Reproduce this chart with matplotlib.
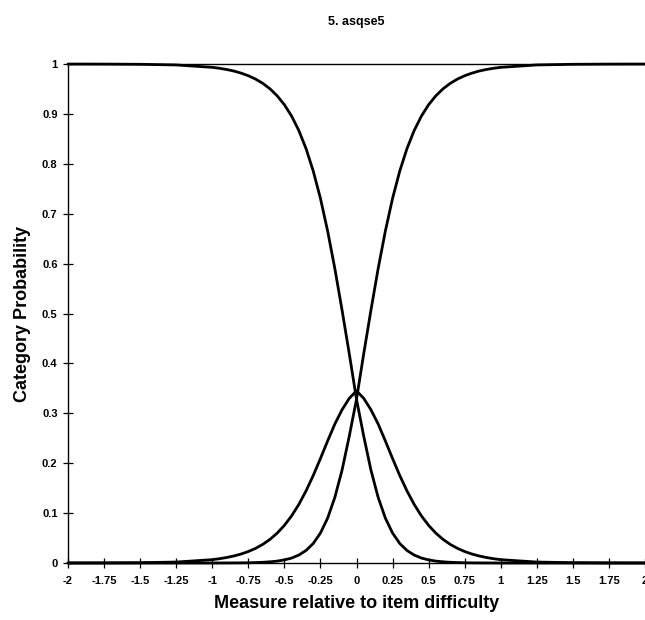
import numpy as np
import matplotlib.pyplot as plt

plt.rcParams['font.family'] = ['Liberation Sans', 'DejaVu Sans']

# measure (logits relative to item difficulty) and the three category curves
measure = [-2.0, -1.75, -1.5, -1.25, -1.0, -0.95, -0.9, -0.85, -0.8, -0.75,
           -0.7, -0.65, -0.6, -0.55, -0.5, -0.45, -0.4, -0.35, -0.3, -0.25,
           -0.2, -0.15, -0.1, -0.05, 0.0, 0.05, 0.1, 0.15, 0.2, 0.25,
           0.3, 0.35, 0.4, 0.45, 0.5, 0.55, 0.6, 0.65, 0.7, 0.75,
           0.8, 0.85, 0.9, 0.95, 1.0, 1.25, 1.5, 1.75, 2.0]

cat0 = [0.9999, 0.9998, 0.9994, 0.9981, 0.9933, 0.9914, 0.9890, 0.9859, 0.9817, 0.9765,
        0.9698, 0.9613, 0.9503, 0.9363, 0.9184, 0.8957, 0.8668, 0.8306, 0.7856, 0.7307,
        0.6652, 0.5898, 0.5065, 0.4192, 0.3280, 0.2543, 0.1863, 0.1316, 0.0900, 0.0600,
        0.0391, 0.0251, 0.0159, 0.0099, 0.0062, 0.0038, 0.0024, 0.0014, 0.0009, 0.0005,
        0.0003, 0.0002, 0.0001, 0.0001, 0.0000, 0.0000, 0.0000, 0.0000, 0.0000]

cat1 = [0.0001, 0.0002, 0.0006, 0.0019, 0.0067, 0.0086, 0.0110, 0.0141, 0.0180, 0.0230,
        0.0293, 0.0373, 0.0473, 0.0598, 0.0754, 0.0944, 0.1173, 0.1444, 0.1753, 0.2093,
        0.2447, 0.2786, 0.3072, 0.3300, 0.3450, 0.3300, 0.3072, 0.2786, 0.2447, 0.2093,
        0.1753, 0.1444, 0.1173, 0.0944, 0.0754, 0.0598, 0.0473, 0.0373, 0.0293, 0.0230,
        0.0180, 0.0141, 0.0110, 0.0086, 0.0067, 0.0019, 0.0006, 0.0002, 0.0001]

cat2 = cat0[::-1]

xticks = [-2, -1.75, -1.5, -1.25, -1, -0.75, -0.5, -0.25, 0, 0.25, 0.5, 0.75, 1, 1.25, 1.5, 1.75, 2]
xlabels = ['-2', '-1.75', '-1.5', '-1.25', '-1', '-0.75', '-0.5', '-0.25', '0',
           '0.25', '0.5', '0.75', '1', '1.25', '1.5', '1.75', '2']
yticks = [0, 0.1, 0.2, 0.3, 0.4, 0.5, 0.6, 0.7, 0.8, 0.9, 1]
ylabels = ['0', '0.1', '0.2', '0.3', '0.4', '0.5', '0.6', '0.7', '0.8', '0.9', '1']

fig = plt.figure(figsize=(6.45, 6.2), dpi=100)
ax = fig.add_axes([68 / 645, 57 / 620, 1 - 68 / 645, (563 - 64) / 620])

for curve in (cat0, cat1, cat2):
    ax.plot(measure, curve, color='black', lw=2.0, solid_capstyle='round', clip_on=False)

ax.set_xlim(-2, 2)
ax.set_ylim(0, 1)
ax.set_xticks(xticks)
ax.set_xticklabels(xlabels)
ax.set_yticks(yticks)
ax.set_yticklabels(ylabels)

for lab in ax.get_xticklabels() + ax.get_yticklabels():
    lab.set_fontweight('bold')
    lab.set_fontsize(8)

ax.tick_params(axis='both', direction='inout', length=7, width=0.9, color='black')
ax.tick_params(axis='x', pad=6)
ax.tick_params(axis='y', pad=4)

ax.spines['right'].set_visible(False)
for side in ('left', 'bottom', 'top'):
    ax.spines[side].set_linewidth(1.0)

ax.set_xlabel('Measure relative to item difficulty', fontsize=13, fontweight='bold', labelpad=6)
ax.set_ylabel('Category Probability', fontsize=13, fontweight='bold', labelpad=8)

fig.text(356 / 645, 1 - 22 / 620, '5. asqse5', ha='center', va='center',
         fontsize=9, fontweight='bold')

fig.savefig('out.png', dpi=100)
